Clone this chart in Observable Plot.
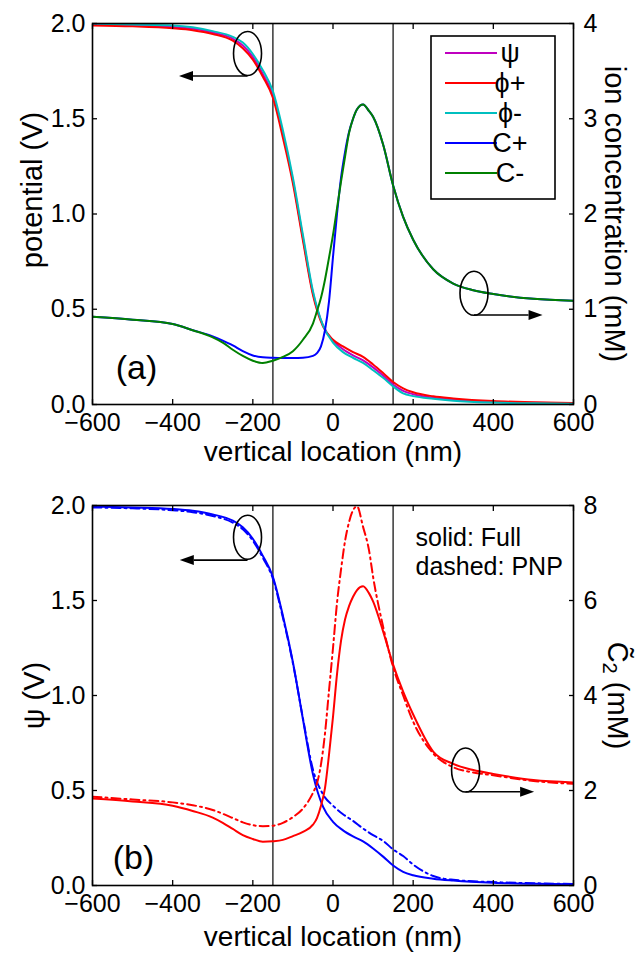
<!DOCTYPE html>
<html><head><meta charset="utf-8">
<script src="https://cdn.jsdelivr.net/npm/d3@7"></script>
<script src="https://cdn.jsdelivr.net/npm/@observablehq/plot@0.6"></script>
<style>
body{margin:0;background:#fff;}
#chart svg{display:block;}
</style></head><body><div id="chart"></div>
<script>
// ---------- data ----------
const potX     = [-600,-500,-400,-350,-300,-250,-225,-200,-175,-150,-125,-100,-75,-50,-25,0,25,50,75,100,125,150,175,200,250,300,400,500,600];
const psiFull  = [1.995,1.99,1.982,1.972,1.953,1.92,1.885,1.825,1.735,1.625,1.42,1.175,0.875,0.585,0.415,0.335,0.29,0.258,0.232,0.195,0.152,0.105,0.072,0.054,0.036,0.026,0.014,0.009,0.006];
const phiPlus  = [1.99,1.985,1.975,1.965,1.945,1.91,1.87,1.81,1.72,1.61,1.40,1.16,0.86,0.575,0.41,0.34,0.305,0.275,0.25,0.21,0.165,0.118,0.085,0.064,0.043,0.032,0.018,0.012,0.008];
const phiMinus = [2.0,1.995,1.99,1.98,1.96,1.93,1.90,1.84,1.755,1.645,1.44,1.19,0.89,0.595,0.415,0.325,0.275,0.245,0.218,0.18,0.14,0.095,0.058,0.044,0.030,0.020,0.010,0.006,0.004];

const concX   = [-600,-500,-400,-350,-300,-275,-250,-225,-200,-175,-150,-125,-100,-75,-50,-40,-30,-20,-10,0,10,20,30,40,50,60,75,90,100,125,150,175,200,250,300,350,400,500,600];
const cPlus   = [0.92,0.89,0.845,0.78,0.715,0.67,0.62,0.56,0.515,0.495,0.49,0.488,0.488,0.49,0.51,0.54,0.61,0.78,1.08,1.55,2.0,2.38,2.65,2.86,3.0,3.10,3.15,3.08,3.02,2.73,2.30,1.97,1.73,1.42,1.27,1.20,1.16,1.11,1.09];
const cMinus  = [0.92,0.89,0.845,0.78,0.705,0.65,0.575,0.51,0.46,0.435,0.46,0.50,0.56,0.68,0.85,0.98,1.12,1.31,1.54,1.78,2.06,2.34,2.60,2.85,3.0,3.10,3.15,3.08,3.02,2.73,2.30,1.97,1.73,1.42,1.27,1.20,1.16,1.11,1.09];

const psiPNP  = [1.99,1.985,1.975,1.965,1.945,1.91,1.875,1.815,1.725,1.615,1.41,1.17,0.88,0.61,0.48,0.42,0.375,0.34,0.30,0.265,0.235,0.19,0.155,0.11,0.05,0.03,0.018,0.012,0.008];
const c2Full  = [1.83,1.77,1.68,1.57,1.43,1.32,1.19,1.06,0.98,0.92,0.93,0.96,1.04,1.13,1.28,1.42,1.68,2.05,2.75,3.55,4.45,5.15,5.6,5.88,6.08,6.22,6.30,6.15,5.98,5.35,4.65,4.08,3.6,2.82,2.56,2.43,2.35,2.22,2.17];
const c2PNP   = [1.87,1.81,1.75,1.69,1.59,1.51,1.42,1.33,1.27,1.25,1.26,1.32,1.44,1.62,1.95,2.15,2.55,3.2,4.1,5.0,5.95,6.65,7.25,7.65,7.9,7.98,7.55,7.05,6.5,5.45,4.6,4.0,3.45,2.78,2.49,2.38,2.32,2.2,2.14];

const xTicks = [-600,-400,-200,0,200,400,600];
const vTicks = [0,0.5,1,1.5,2];
const concTicksA = [0,1,2,3,4];
const concTicksB = [0,2,4,6,8];
const wallX = [-150,150];

const legendLabels = ["ψ","ϕ+","ϕ-","C+","C-"];
const legendColors = ["#bf00bf","#ff0000","#00bfbf","#0000ff","#008000"];

// annotation markers (data coords): ellipse centre, arrow level, arrow tip
const annotA = [{x:-212,y:1.84,ay:1.722,tip:-383},{x:353,y:0.581,ay:0.467,tip:524}];
const annotB = [{x:-212,y:1.83,ay:1.71,tip:-381},{x:332,y:0.605,ay:0.491,tip:503}];

// ---------- helpers ----------
const FONT = "'Liberation Sans', Arial, Helvetica, sans-serif";
const series = (xs, ys, k = 1) => xs.map((x, i) => ({x, y: ys[i] / k}));
const fmtX = d => d < 0 ? "\u2212" + Math.abs(d) : String(d);
const DASH = "9,4,2,4";

function annotMark(data) {
  return Plot.dot(data, {x: "x", y: "y", render: (index, scales, values) => {
    const g = d3.create("svg:g");
    for (const i of index) {
      const d = data[i];
      const cx = values.x[i], cy = values.y[i];
      const ay = scales.y(d.ay), tx = scales.x(d.tip);
      g.append("ellipse").attr("cx", cx).attr("cy", cy).attr("rx", 14).attr("ry", 22)
        .attr("fill", "none").attr("stroke", "black").attr("stroke-width", 1.6);
      const dir = Math.sign(tx - cx);
      const hl = 14, hw = 5;
      g.append("line").attr("x1", cx).attr("y1", ay).attr("x2", tx - dir * hl).attr("y2", ay)
        .attr("stroke", "black").attr("stroke-width", 1.6);
      g.append("path").attr("d", `M${tx},${ay}L${tx - dir*hl},${ay - hw}L${tx - dir*hl},${ay + hw}Z`).attr("fill", "black");
    }
    return g.node();
  }});
}

function legendMark() {
  return (index, scales, values, dims) => {
    const g = d3.create("svg:g");
    const right = dims.width - dims.marginRight - 18;
    const left = right - 124, top = dims.marginTop + 13;
    g.append("rect").attr("x", left).attr("y", top).attr("width", 124).attr("height", 163)
      .attr("fill", "white").attr("stroke", "black").attr("stroke-width", 1.6);
    legendLabels.forEach((lab, i) => {
      const y = top + 17 + i * 30;
      g.append("line").attr("x1", left + 14).attr("x2", left + 66).attr("y1", y).attr("y2", y)
        .attr("stroke", legendColors[i]).attr("stroke-width", 2);
      g.append("text").attr("x", left + 79).attr("y", y).attr("dy", "0.35em")
        .attr("font-size", 27).attr("font-family", FONT).attr("fill", "black").text(lab);
    });
    return g.node();
  };
}

function axes(rightTicks, k) {
  return [
    Plot.axisX(xTicks, {anchor: "bottom", tickSize: -5, tickPadding: 14, tickFormat: fmtX, label: null, strokeWidth: 1.3}),
    Plot.axisX(xTicks, {anchor: "top", tickSize: -5, tickFormat: () => "", label: null, strokeWidth: 1.3}),
    Plot.axisY(vTicks, {anchor: "left", tickSize: -5, tickPadding: 12, tickFormat: d3.format(".1f"), label: null, strokeWidth: 1.3}),
    Plot.axisY(rightTicks.map(c => c / k), {anchor: "right", tickSize: -5, tickPadding: 15, tickFormat: d => String(Math.round(d * k)), label: null, strokeWidth: 1.3})
  ];
}

const txt = (s, o) => Plot.text([s], {textAnchor: "middle", lineAnchor: "middle", ...o});

const style = {fontFamily: FONT, fontSize: "25px", color: "black", background: "white", overflow: "visible"};

// ---------- panel (a) ----------
const pa = Plot.plot({
  width: 644, height: 480,
  marginTop: 23, marginBottom: 76, marginLeft: 92, marginRight: 71,
  style,
  x: {domain: [-600, 600], axis: null},
  y: {domain: [0, 2], axis: null},
  marks: [
    Plot.ruleX(wallX, {stroke: "#444", strokeWidth: 1.6}),
    Plot.line(series(potX, psiFull), {x: "x", y: "y", stroke: legendColors[0], strokeWidth: 2, curve: "monotone-x", clip: true}),
    Plot.line(series(potX, phiPlus), {x: "x", y: "y", stroke: legendColors[1], strokeWidth: 2, curve: "monotone-x", clip: true}),
    Plot.line(series(potX, phiMinus), {x: "x", y: "y", stroke: legendColors[2], strokeWidth: 2, curve: "monotone-x", clip: true}),
    Plot.line(series(concX, cPlus, 2), {x: "x", y: "y", stroke: legendColors[3], strokeWidth: 2, curve: "monotone-x", clip: true}),
    Plot.line(series(concX, cMinus, 2), {x: "x", y: "y", stroke: legendColors[4], strokeWidth: 2, curve: "monotone-x", clip: true}),
    Plot.frame({stroke: "black", strokeWidth: 1.6}),
    ...axes(concTicksA, 2),
    annotMark(annotA),
    legendMark(),
    txt("(a)", {frameAnchor: "bottom-left", dx: 44, dy: -36, fontSize: 34}),
    txt("vertical location (nm)", {frameAnchor: "bottom", dy: 48, fontSize: 28}),
    txt("potential (V)", {frameAnchor: "left", dx: -60, dy: -24, rotate: -90, fontSize: 29}),
    txt("ion concentration (mM)", {frameAnchor: "right", dx: 41, rotate: 90, fontSize: 29})
  ]
});

// ---------- panel (b) ----------
const pb = Plot.plot({
  width: 644, height: 477,
  marginTop: 25, marginBottom: 72, marginLeft: 92, marginRight: 71,
  style,
  x: {domain: [-600, 600], axis: null},
  y: {domain: [0, 2], axis: null},
  marks: [
    Plot.ruleX(wallX, {stroke: "#444", strokeWidth: 1.6}),
    Plot.line(series(potX, psiFull), {x: "x", y: "y", stroke: "#0000ff", strokeWidth: 2, curve: "monotone-x", clip: true}),
    Plot.line(series(potX, psiPNP), {x: "x", y: "y", stroke: "#0000ff", strokeWidth: 2, strokeDasharray: DASH, curve: "monotone-x", clip: true}),
    Plot.line(series(concX, c2Full, 4), {x: "x", y: "y", stroke: "#ff0000", strokeWidth: 2, curve: "monotone-x", clip: true}),
    Plot.line(series(concX, c2PNP, 4), {x: "x", y: "y", stroke: "#ff0000", strokeWidth: 2, strokeDasharray: DASH, curve: "monotone-x", clip: true}),
    Plot.frame({stroke: "black", strokeWidth: 1.6}),
    ...axes(concTicksB, 4),
    annotMark(annotB),
    txt("solid: Full", {frameAnchor: "top-right", dx: -158, dy: 32, textAnchor: "start", fontSize: 25}),
    txt("dashed: PNP", {frameAnchor: "top-right", dx: -158, dy: 61, textAnchor: "start", fontSize: 25}),
    txt("(b)", {frameAnchor: "bottom-left", dx: 41, dy: -27, fontSize: 34}),
    txt("vertical location (nm)", {frameAnchor: "bottom", dy: 52, fontSize: 28}),
    txt("ψ (V)", {frameAnchor: "left", dx: -58, rotate: -90, fontSize: 29}),
    txt("C\u0303\u2082 (mM)", {frameAnchor: "right", dx: 44, rotate: 90, fontSize: 29})
  ]
});

// render the subscript 2 of the right-hand label as a real subscript
d3.select(pb).selectAll("text").filter(function() { return this.textContent.includes("\u2082"); })
  .each(function() {
    const t = d3.select(this);
    t.text(null);
    t.append("tspan").text("C\u0303");
    t.append("tspan").attr("font-size", 20).attr("dy", 5).text("2");
    t.append("tspan").attr("dy", -5).text(" (mM)");
  });

const root = document.getElementById("chart");
root.append(pa, pb);
</script></body></html>
